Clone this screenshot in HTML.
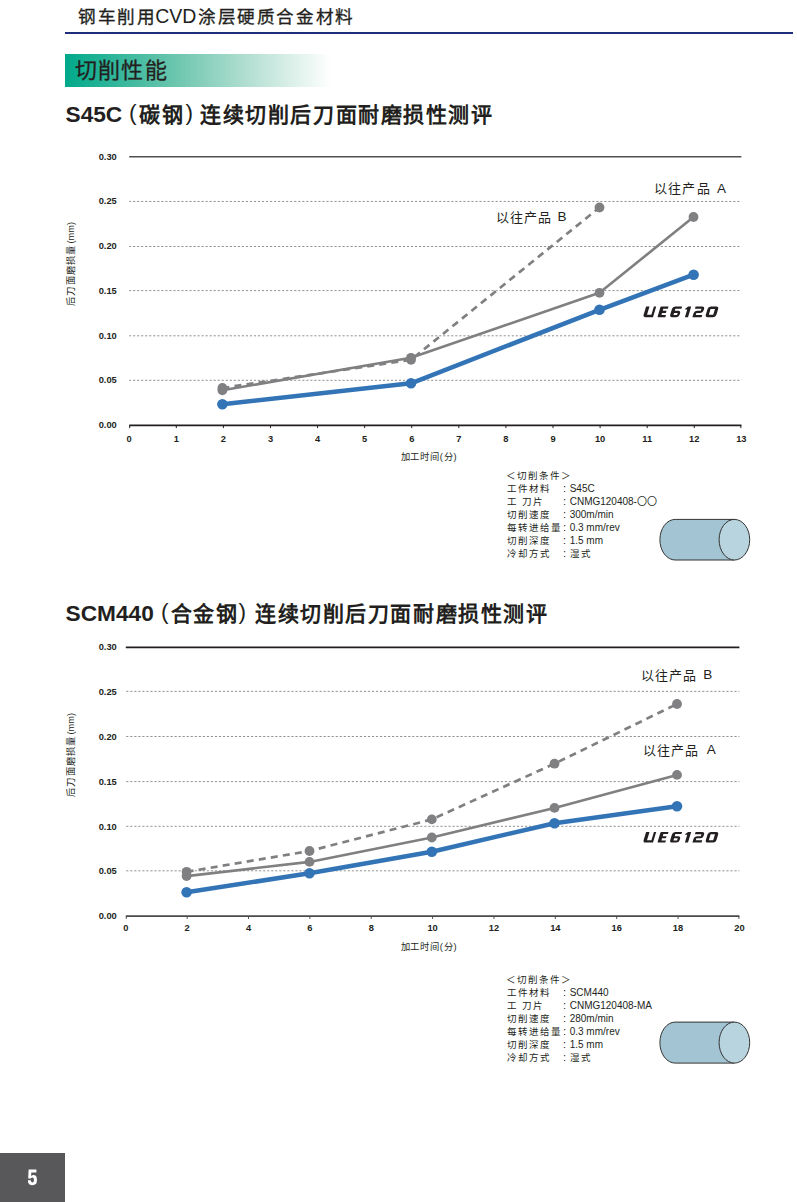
<!DOCTYPE html>
<html lang="zh-CN">
<head>
<meta charset="utf-8">
<style>
html,body{margin:0;padding:0;background:#fff;}
body{width:797px;height:1202px;position:relative;overflow:hidden;font-family:"Liberation Sans",sans-serif;color:#231f20;}
.t{position:absolute;white-space:nowrap;line-height:1;}
.b{font-weight:bold;}
</style>
</head>
<body>
<div class="t " style="left:78.3px;top:9.2px;font-size:17.6px;letter-spacing:1.6px;-webkit-text-stroke:0.3px #231f20">钢车削用</div>
<div class="t " style="left:155.2px;top:7.1px;font-size:19.5px">CVD</div>
<div class="t " style="left:198.0px;top:9.2px;font-size:17.6px;letter-spacing:1.6px;-webkit-text-stroke:0.3px #231f20">涂层硬质合金材料</div>
<div style="position:absolute;left:65px;top:32.2px;width:728px;height:2px;background:#1e2e7a"></div>
<div style="position:absolute;left:65px;top:53.5px;width:266px;height:33px;background:linear-gradient(to right,#00a98a 0%,#6dc6ae 42%,#bbe2d6 72%,#ffffff 100%)"></div>
<div class="t " style="left:74.5px;top:60.2px;font-size:22px;letter-spacing:1.35px;-webkit-text-stroke:0.3px #231f20">切削性能</div>
<div class="t b" style="left:65.5px;top:102.8px;font-size:22.7px">S45C</div>
<div class="t " style="left:129.0px;top:101.0px;font-size:22.7px">(</div>
<div class="t b" style="left:139.2px;top:103.5px;font-size:21px;letter-spacing:1.6px">碳钢</div>
<div class="t " style="left:185.5px;top:101.0px;font-size:22.7px">)</div>
<div class="t b" style="left:200.2px;top:103.5px;font-size:21px;letter-spacing:1.57px">连续切削后刀面耐磨损性测评</div>
<div class="t b" style="left:65.5px;top:601.8px;font-size:22.7px">SCM440</div>
<div class="t " style="left:161.0px;top:600.0px;font-size:22.7px">(</div>
<div class="t b" style="left:170.5px;top:602.5px;font-size:21px;letter-spacing:1.6px">合金钢</div>
<div class="t " style="left:238.6px;top:600.0px;font-size:22.7px">)</div>
<div class="t b" style="left:255.0px;top:602.5px;font-size:21px;letter-spacing:1.57px">连续切削后刀面耐磨损性测评</div>
<svg width="797" height="1202" style="position:absolute;left:0;top:0">
<defs>
<g id="logo" fill="#231f20" fill-rule="evenodd">
<path d="M0,-10.7 H3.4 V-2.4 H7.8 V-10.7 H10.1 V0 H2.6 Q0,0 0,-2.6 Z"/>
<path transform="translate(14.5,0)" d="M0.8,-10.7 H7.9 V-8.5 H3.4 V-6.45 H7.2 V-4.25 H3.4 V-2.2 H7.9 V0 H0.8 Q0,0 0,-0.8 V-9.9 Q0,-10.7 0.8,-10.7 Z"/>
<path transform="translate(26.6,0)" d="M2.6,-10.7 H9.4 V-8.5 H3.3 V-6.45 H6.8 Q9.4,-6.45 9.4,-3.85 V-2.6 Q9.4,0 6.8,0 H2.6 Q0,0 0,-2.6 V-8.1 Q0,-10.7 2.6,-10.7 Z M3.3,-4.25 H6.9 V-2.2 H3.3 Z"/>
<path transform="translate(39.6,0)" d="M0,-8.3 L2.4,-10.7 H5.5 V0 H2.4 V-7.8 H0.5 Z"/>
<path transform="translate(49.5,0)" d="M0,-10.7 H6.6 Q9.2,-10.7 9.2,-8.1 V-6.85 Q9.2,-4.25 6.6,-4.25 H2.7 V-2.3 H9.2 V0 H0 V-3.85 Q0,-6.45 2.6,-6.45 H6.5 V-8.4 H0 Z"/>
<path transform="translate(62.2,0)" d="M2.6,-10.7 H8.0 Q10.6,-10.7 10.6,-8.1 V-2.6 Q10.6,0 8.0,0 H2.6 Q0,0 0,-2.6 V-8.1 Q0,-10.7 2.6,-10.7 Z M3.0,-8.3 H7.4 V-2.4 H3.0 Z"/>
</g>
</defs>
<line x1="129.2" y1="156.80" x2="741.4" y2="156.80" stroke="#505050" stroke-width="1.6"/>
<g stroke="#939393" stroke-width="1" stroke-dasharray="2.2 1.828" stroke-dashoffset="0.188">
<line x1="129.2" y1="201.45" x2="741.4" y2="201.45"/>
<line x1="129.2" y1="246.50" x2="741.4" y2="246.50"/>
<line x1="129.2" y1="290.60" x2="741.4" y2="290.60"/>
<line x1="129.2" y1="335.80" x2="741.4" y2="335.80"/>
<line x1="129.2" y1="380.30" x2="741.4" y2="380.30"/>
</g>
<line x1="129.2" y1="425.3" x2="741.4" y2="425.3" stroke="#231f20" stroke-width="1.7"/>
<path stroke="#231f20" stroke-width="1" d="M129.70,425.3 v2.8 M176.29,425.3 v2.8 M223.38,425.3 v2.8 M270.47,425.3 v2.8 M317.56,425.3 v2.8 M364.65,425.3 v2.8 M411.74,425.3 v2.8 M458.83,425.3 v2.8 M505.92,425.3 v2.8 M553.01,425.3 v2.8 M600.10,425.3 v2.8 M647.19,425.3 v2.8 M694.28,425.3 v2.8 M740.87,425.3 v2.8 "/>
<polyline fill="none" stroke="#808083" stroke-width="2.7" stroke-dasharray="7 5.2" points="222.4,388.0 411,359.8 599.5,207.5"/>
<polyline fill="none" stroke="#808083" stroke-width="2.6" stroke-linejoin="round" points="222.4,390.3 411,357.8 599.5,292.8 693.5,217"/>
<polyline fill="none" stroke="#3274b6" stroke-width="4.5" stroke-linejoin="round" points="222.4,404.2 411,383.3 599.5,309.8 693.6,274.7"/>
<g fill="#808083"><circle cx="222.4" cy="388.0" r="4.9"/><circle cx="411" cy="359.8" r="4.9"/><circle cx="599.5" cy="207.5" r="4.9"/><circle cx="222.4" cy="390.3" r="4.9"/><circle cx="411" cy="357.8" r="4.9"/><circle cx="599.5" cy="292.8" r="4.9"/><circle cx="693.5" cy="217" r="4.9"/></g>
<g fill="#3274b6"><circle cx="222.4" cy="404.2" r="5.3"/><circle cx="411" cy="383.3" r="5.3"/><circle cx="599.5" cy="309.8" r="5.3"/><circle cx="693.6" cy="274.7" r="5.3"/></g>
<line x1="125.8" y1="647.35" x2="739.4" y2="647.35" stroke="#231f20" stroke-width="1.6"/>
<g stroke="#939393" stroke-width="1" stroke-dasharray="2.2 1.828" stroke-dashoffset="3.628">
<line x1="125.8" y1="691.35" x2="739.4" y2="691.35"/>
<line x1="125.8" y1="736.50" x2="739.4" y2="736.50"/>
<line x1="125.8" y1="781.60" x2="739.4" y2="781.60"/>
<line x1="125.8" y1="826.30" x2="739.4" y2="826.30"/>
<line x1="125.8" y1="870.80" x2="739.4" y2="870.80"/>
</g>
<line x1="125.8" y1="916.1" x2="739.4" y2="916.1" stroke="#4a4a4a" stroke-width="1.7"/>
<path stroke="#4a4a4a" stroke-width="1" d="M126.30,916.1 v2.8 M187.16,916.1 v2.8 M248.52,916.1 v2.8 M309.88,916.1 v2.8 M371.24,916.1 v2.8 M432.60,916.1 v2.8 M493.96,916.1 v2.8 M555.32,916.1 v2.8 M616.68,916.1 v2.8 M678.04,916.1 v2.8 M738.90,916.1 v2.8 "/>
<polyline fill="none" stroke="#808083" stroke-width="2.7" stroke-dasharray="7 5.2" points="186.6,871.8 309.5,851 431.8,819.4 554.5,763.7 677,704"/>
<polyline fill="none" stroke="#808083" stroke-width="2.6" stroke-linejoin="round" points="186.6,876.1 309.5,861.9 431.8,837.5 554.5,807.9 677,774.9"/>
<polyline fill="none" stroke="#3274b6" stroke-width="4.5" stroke-linejoin="round" points="186.6,892.3 309.5,873.3 431.8,851.7 554.5,823.2 677,806.2"/>
<g fill="#808083"><circle cx="186.6" cy="871.8" r="4.9"/><circle cx="309.5" cy="851" r="4.9"/><circle cx="431.8" cy="819.4" r="4.9"/><circle cx="554.5" cy="763.7" r="4.9"/><circle cx="677" cy="704" r="4.9"/><circle cx="186.6" cy="876.1" r="4.9"/><circle cx="309.5" cy="861.9" r="4.9"/><circle cx="431.8" cy="837.5" r="4.9"/><circle cx="554.5" cy="807.9" r="4.9"/><circle cx="677" cy="774.9" r="4.9"/></g>
<g fill="#3274b6"><circle cx="186.6" cy="892.3" r="5.3"/><circle cx="309.5" cy="873.3" r="5.3"/><circle cx="431.8" cy="851.7" r="5.3"/><circle cx="554.5" cy="823.2" r="5.3"/><circle cx="677" cy="806.2" r="5.3"/></g>
<use href="#logo" transform="translate(642.9,317.2) skewX(-16.7)"/>
<use href="#logo" transform="translate(642.9,842.6) skewX(-16.7)"/>
<path d="M675.2,519.4 H734.4 V560 H675.2 A15.3,20.30000000000001 0 0 1 675.2,519.4 Z" fill="#a3c4d2" stroke="#333" stroke-width="1"/><ellipse cx="734.4" cy="539.7" rx="15.3" ry="20.30000000000001" fill="#b8d5df" stroke="#333" stroke-width="1"/>
<path d="M675.2,1022.1 H734.4 V1063.1 H675.2 A15.3,20.499999999999943 0 0 1 675.2,1022.1 Z" fill="#a3c4d2" stroke="#333" stroke-width="1"/><ellipse cx="734.4" cy="1042.6" rx="15.3" ry="20.499999999999943" fill="#b8d5df" stroke="#333" stroke-width="1"/>
</svg>
<div class="t b" style="left:76.8px;width:40px;text-align:right;top:152.55px;font-size:9.3px">0.30</div>
<div class="t b" style="left:76.8px;width:40px;text-align:right;top:197.30px;font-size:9.3px">0.25</div>
<div class="t b" style="left:76.8px;width:40px;text-align:right;top:242.05px;font-size:9.3px">0.20</div>
<div class="t b" style="left:76.8px;width:40px;text-align:right;top:286.80px;font-size:9.3px">0.15</div>
<div class="t b" style="left:76.8px;width:40px;text-align:right;top:331.55px;font-size:9.3px">0.10</div>
<div class="t b" style="left:76.8px;width:40px;text-align:right;top:376.30px;font-size:9.3px">0.05</div>
<div class="t b" style="left:76.8px;width:40px;text-align:right;top:421.05px;font-size:9.3px">0.00</div>
<div class="t b" style="left:109.20px;width:40px;text-align:center;top:435.10px;font-size:9.3px">0</div>
<div class="t b" style="left:156.29px;width:40px;text-align:center;top:435.10px;font-size:9.3px">1</div>
<div class="t b" style="left:203.38px;width:40px;text-align:center;top:435.10px;font-size:9.3px">2</div>
<div class="t b" style="left:250.47px;width:40px;text-align:center;top:435.10px;font-size:9.3px">3</div>
<div class="t b" style="left:297.56px;width:40px;text-align:center;top:435.10px;font-size:9.3px">4</div>
<div class="t b" style="left:344.65px;width:40px;text-align:center;top:435.10px;font-size:9.3px">5</div>
<div class="t b" style="left:391.74px;width:40px;text-align:center;top:435.10px;font-size:9.3px">6</div>
<div class="t b" style="left:438.83px;width:40px;text-align:center;top:435.10px;font-size:9.3px">7</div>
<div class="t b" style="left:485.92px;width:40px;text-align:center;top:435.10px;font-size:9.3px">8</div>
<div class="t b" style="left:533.01px;width:40px;text-align:center;top:435.10px;font-size:9.3px">9</div>
<div class="t b" style="left:580.10px;width:40px;text-align:center;top:435.10px;font-size:9.3px">10</div>
<div class="t b" style="left:627.19px;width:40px;text-align:center;top:435.10px;font-size:9.3px">11</div>
<div class="t b" style="left:674.28px;width:40px;text-align:center;top:435.10px;font-size:9.3px">12</div>
<div class="t b" style="left:721.37px;width:40px;text-align:center;top:435.10px;font-size:9.3px">13</div>
<div class="t b" style="left:76.8px;width:40px;text-align:right;top:643.30px;font-size:9.3px">0.30</div>
<div class="t b" style="left:76.8px;width:40px;text-align:right;top:688.10px;font-size:9.3px">0.25</div>
<div class="t b" style="left:76.8px;width:40px;text-align:right;top:732.90px;font-size:9.3px">0.20</div>
<div class="t b" style="left:76.8px;width:40px;text-align:right;top:777.70px;font-size:9.3px">0.15</div>
<div class="t b" style="left:76.8px;width:40px;text-align:right;top:822.50px;font-size:9.3px">0.10</div>
<div class="t b" style="left:76.8px;width:40px;text-align:right;top:867.30px;font-size:9.3px">0.05</div>
<div class="t b" style="left:76.8px;width:40px;text-align:right;top:912.10px;font-size:9.3px">0.00</div>
<div class="t b" style="left:105.80px;width:40px;text-align:center;top:924.30px;font-size:9.3px">0</div>
<div class="t b" style="left:167.16px;width:40px;text-align:center;top:924.30px;font-size:9.3px">2</div>
<div class="t b" style="left:228.52px;width:40px;text-align:center;top:924.30px;font-size:9.3px">4</div>
<div class="t b" style="left:289.88px;width:40px;text-align:center;top:924.30px;font-size:9.3px">6</div>
<div class="t b" style="left:351.24px;width:40px;text-align:center;top:924.30px;font-size:9.3px">8</div>
<div class="t b" style="left:412.60px;width:40px;text-align:center;top:924.30px;font-size:9.3px">10</div>
<div class="t b" style="left:473.96px;width:40px;text-align:center;top:924.30px;font-size:9.3px">12</div>
<div class="t b" style="left:535.32px;width:40px;text-align:center;top:924.30px;font-size:9.3px">14</div>
<div class="t b" style="left:596.68px;width:40px;text-align:center;top:924.30px;font-size:9.3px">16</div>
<div class="t b" style="left:658.04px;width:40px;text-align:center;top:924.30px;font-size:9.3px">18</div>
<div class="t b" style="left:719.40px;width:40px;text-align:center;top:924.30px;font-size:9.3px">20</div>
<div class="t " style="left:66.5px;top:305.8px;font-size:9.3px;transform-origin:0 0;transform:rotate(-90deg)"><span style="letter-spacing:1.3px">后刀面磨损量</span><span style="padding-left:0.6px">(mm)</span></div>
<div class="t " style="left:66.5px;top:796.9px;font-size:9.3px;transform-origin:0 0;transform:rotate(-90deg)"><span style="letter-spacing:1.3px">后刀面磨损量</span><span style="padding-left:0.6px">(mm)</span></div>
<div class="t " style="left:400.6px;top:453.2px;font-size:9.3px;letter-spacing:0.8px">加工时间(分)</div>
<div class="t " style="left:400.6px;top:942.9px;font-size:9.3px;letter-spacing:0.8px">加工时间(分)</div>
<div class="t " style="left:654.1px;top:182.3px;font-size:13px;letter-spacing:1.2px">以往产品</div>
<div class="t " style="left:717.1px;top:182.26999999999998px;font-size:13.5px">A</div>
<div class="t " style="left:495.6px;top:210.6px;font-size:13px;letter-spacing:1.2px">以往产品</div>
<div class="t " style="left:557.4px;top:209.57px;font-size:13.5px">B</div>
<div class="t " style="left:640.8px;top:669.3px;font-size:13px;letter-spacing:1.2px">以往产品</div>
<div class="t " style="left:703.3px;top:668.37px;font-size:13.5px">B</div>
<div class="t " style="left:642.6px;top:743.6px;font-size:13px;letter-spacing:1.2px">以往产品</div>
<div class="t " style="left:706.8000000000001px;top:742.57px;font-size:13.5px">A</div>
<div class="t " style="left:506.0px;top:470.96px;font-size:9.5px;letter-spacing:1.1px">＜切削条件＞</div>
<div class="t " style="left:506.8px;top:483.94px;font-size:9.5px;letter-spacing:1.1px">工件材料</div>
<div class="t " style="left:563.0px;top:482.68px;font-size:11px">:</div>
<div class="t " style="left:569.7px;top:484.28000000000003px;font-size:10px">S45C</div>
<div class="t " style="left:506.8px;top:496.91999999999996px;font-size:9.5px;letter-spacing:1.1px">工 刀片</div>
<div class="t " style="left:563.0px;top:495.65999999999997px;font-size:11px">:</div>
<div class="t " style="left:569.7px;top:497.26px;font-size:10px">CNMG120408-〇〇</div>
<div class="t " style="left:506.8px;top:509.90000000000003px;font-size:9.5px;letter-spacing:1.1px">切削速度</div>
<div class="t " style="left:563.0px;top:508.64000000000004px;font-size:11px">:</div>
<div class="t " style="left:569.7px;top:510.24000000000007px;font-size:10px">300m/min</div>
<div class="t " style="left:506.8px;top:522.88px;font-size:9.5px;letter-spacing:1.1px">每转进给量</div>
<div class="t " style="left:563.0px;top:521.62px;font-size:11px">:</div>
<div class="t " style="left:569.7px;top:523.2199999999999px;font-size:10px">0.3 mm/rev</div>
<div class="t " style="left:506.8px;top:535.86px;font-size:9.5px;letter-spacing:1.1px">切削深度</div>
<div class="t " style="left:563.0px;top:534.6px;font-size:11px">:</div>
<div class="t " style="left:569.7px;top:536.1999999999999px;font-size:10px">1.5 mm</div>
<div class="t " style="left:506.8px;top:548.84px;font-size:9.5px;letter-spacing:1.1px">冷却方式</div>
<div class="t " style="left:563.0px;top:547.58px;font-size:11px">:</div>
<div class="t " style="left:570.0px;top:548.84px;font-size:9.5px;letter-spacing:1.4px">湿式</div>
<div class="t " style="left:506.0px;top:974.96px;font-size:9.5px;letter-spacing:1.1px">＜切削条件＞</div>
<div class="t " style="left:506.8px;top:987.94px;font-size:9.5px;letter-spacing:1.1px">工件材料</div>
<div class="t " style="left:563.0px;top:986.6800000000001px;font-size:11px">:</div>
<div class="t " style="left:569.7px;top:988.28px;font-size:10px">SCM440</div>
<div class="t " style="left:506.8px;top:1000.9200000000001px;font-size:9.5px;letter-spacing:1.1px">工 刀片</div>
<div class="t " style="left:563.0px;top:999.6600000000001px;font-size:11px">:</div>
<div class="t " style="left:569.7px;top:1001.26px;font-size:10px">CNMG120408-MA</div>
<div class="t " style="left:506.8px;top:1013.9000000000001px;font-size:9.5px;letter-spacing:1.1px">切削速度</div>
<div class="t " style="left:563.0px;top:1012.6400000000001px;font-size:11px">:</div>
<div class="t " style="left:569.7px;top:1014.24px;font-size:10px">280m/min</div>
<div class="t " style="left:506.8px;top:1026.88px;font-size:9.5px;letter-spacing:1.1px">每转进给量</div>
<div class="t " style="left:563.0px;top:1025.6200000000001px;font-size:11px">:</div>
<div class="t " style="left:569.7px;top:1027.22px;font-size:10px">0.3 mm/rev</div>
<div class="t " style="left:506.8px;top:1039.8600000000001px;font-size:9.5px;letter-spacing:1.1px">切削深度</div>
<div class="t " style="left:563.0px;top:1038.6000000000001px;font-size:11px">:</div>
<div class="t " style="left:569.7px;top:1040.2px;font-size:10px">1.5 mm</div>
<div class="t " style="left:506.8px;top:1052.8400000000001px;font-size:9.5px;letter-spacing:1.1px">冷却方式</div>
<div class="t " style="left:563.0px;top:1051.5800000000002px;font-size:11px">:</div>
<div class="t " style="left:570.0px;top:1052.8400000000001px;font-size:9.5px;letter-spacing:1.4px">湿式</div>
<div style="position:absolute;left:0;top:1153px;width:65.3px;height:49px;background:#58585a"></div>
<svg width="65" height="49" style="position:absolute;left:0;top:1153px" viewBox="0 1153 65 49"><path fill="#fff" d="M28.6,1169.6 H36.4 V1172.4 H31.3 L31.1,1175.9 Q32.2,1175.0 33.5,1175.0 Q36.9,1175.0 36.9,1179.4 V1180.6 Q36.9,1185.2 32.4,1185.2 Q27.9,1185.2 27.9,1180.8 V1180.2 H30.9 V1180.6 Q30.9,1182.6 32.4,1182.6 Q33.9,1182.6 33.9,1180.6 V1179.6 Q33.9,1177.6 32.4,1177.6 Q31.3,1177.6 30.9,1178.6 H28.2 Z"/></svg>
</body>
</html>
